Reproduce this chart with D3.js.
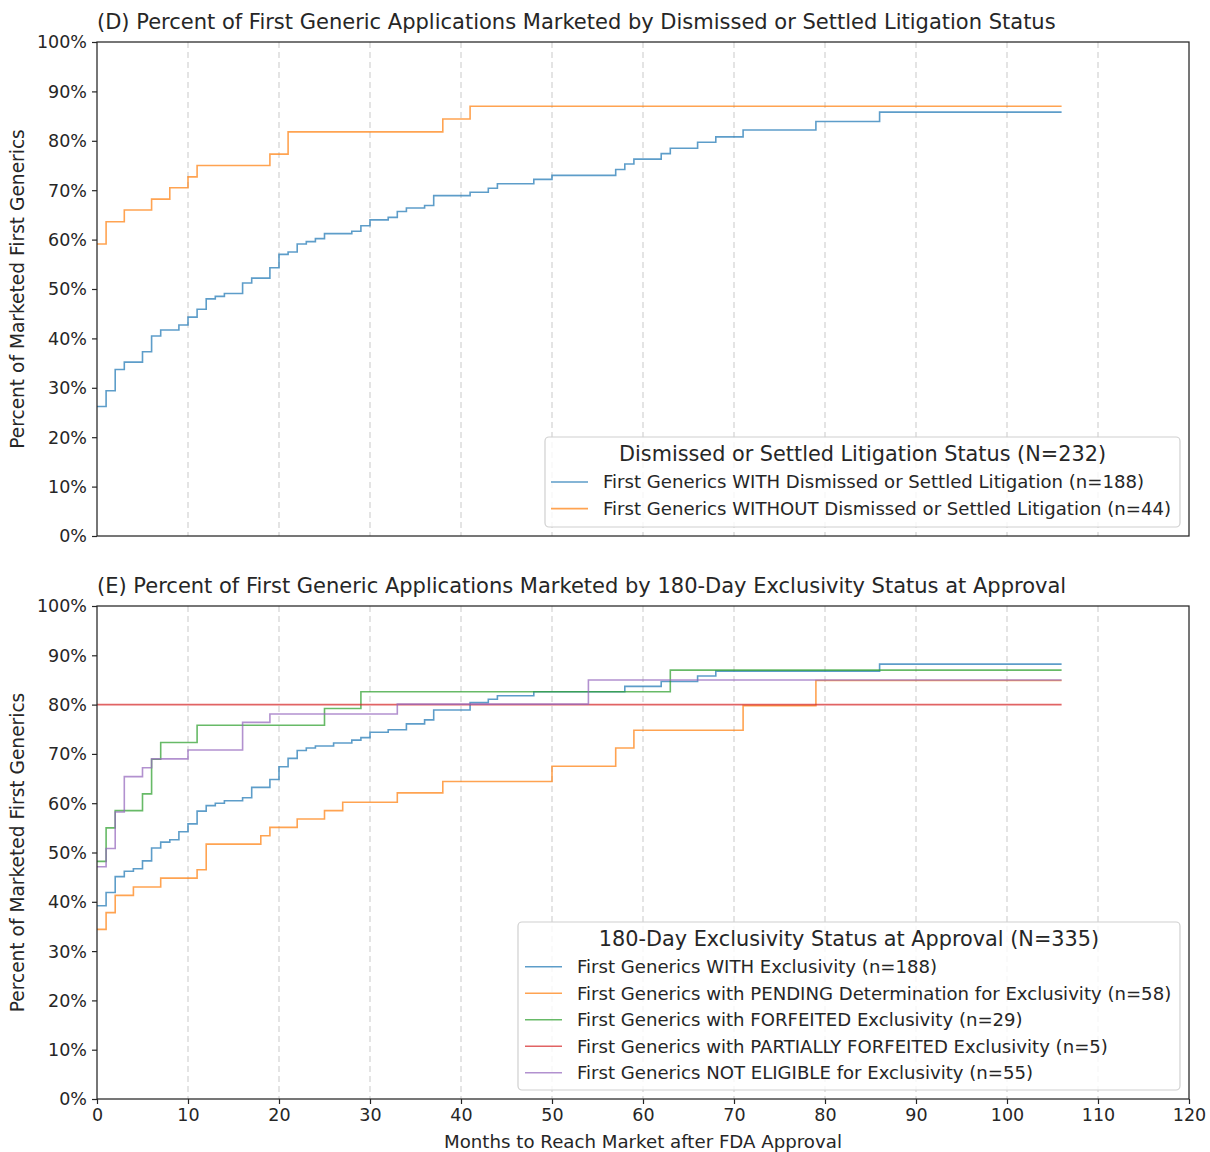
<!DOCTYPE html>
<html><head><meta charset="utf-8">
<script src="https://cdn.jsdelivr.net/npm/d3@7"></script>
<style>
body{margin:0;background:#fff;}
text{font-family:"DejaVu Sans",sans-serif;fill:#262626;}
</style></head>
<body><svg id="chart" width="1210" height="1152"></svg>
<script>
// ---- Data ----
const xTicks = [0,10,20,30,40,50,60,70,80,90,100,110,120];
const yTicks = [0,10,20,30,40,50,60,70,80,90,100];

const titleD = "(D) Percent of First Generic Applications Marketed by Dismissed or Settled Litigation Status";
const titleE = "(E) Percent of First Generic Applications Marketed by 180-Day Exclusivity Status at Approval";
const legendTitleD = "Dismissed or Settled Litigation Status (N=232)";
const legendTitleE = "180-Day Exclusivity Status at Approval (N=335)";

const labelsD = ["First Generics WITH Dismissed or Settled Litigation (n=188)",
                 "First Generics WITHOUT Dismissed or Settled Litigation (n=44)"];
const labelsE = ["First Generics WITH Exclusivity (n=188)",
                 "First Generics with PENDING Determination for Exclusivity (n=58)",
                 "First Generics with FORFEITED Exclusivity (n=29)",
                 "First Generics with PARTIALLY FORFEITED Exclusivity (n=5)",
                 "First Generics NOT ELIGIBLE for Exclusivity (n=55)"];

const dWithMonths = [0,1,2,3,5,6,7,9,10,11,12,13,14,16,17,19,20,21,22,23,24,25,28,29,30,32,33,34,36,37,41,43,44,48,50,57,58,59,62,63,66,68,71,79,86,106];
const dWithVals   = [26.2,29.4,33.7,35.2,37.3,40.5,41.7,42.7,44.3,45.9,48.0,48.5,49.1,51.2,52.2,54.3,57.0,57.5,59.1,59.6,60.2,61.2,61.7,62.8,64.0,64.5,65.7,66.4,66.9,68.9,69.6,70.4,71.3,72.2,73.0,74.2,75.3,76.3,77.4,78.5,79.7,80.8,82.2,83.9,85.8,85.8];
const dWithoutMonths = [0,1,3,6,8,10,11,19,21,38,41,106];
const dWithoutVals   = [59.1,63.6,66.0,68.2,70.5,72.7,75.0,77.3,81.8,84.4,87.0,87.0];

const eWithMonths = [0,1,2,3,4,5,6,7,8,9,10,11,12,13,14,16,17,19,20,21,22,23,24,26,28,29,30,32,34,36,37,41,43,44,48,58,62,66,68,86,106];
const eWithVals   = [39.2,41.9,45.1,46.2,46.7,48.3,50.9,52.1,52.6,54.2,55.8,58.4,59.5,60.0,60.5,61.1,63.2,64.8,67.4,69.1,70.7,71.2,71.6,72.2,72.8,73.3,74.4,74.9,76.1,76.9,78.9,80.4,81.1,81.8,82.6,83.7,84.7,85.8,86.8,88.2,88.2];
const ePendingMonths = [0,1,2,4,7,11,12,18,19,22,25,27,33,38,50,57,59,71,79,106];
const ePendingVals   = [34.4,37.8,41.3,43.0,44.8,46.5,51.7,53.4,55.1,56.8,58.5,60.2,62.1,64.4,67.5,71.2,74.8,79.8,84.9,84.9];
const eForfeitedMonths = [0,1,2,5,6,7,11,25,29,63,106];
const eForfeitedVals   = [48.2,55.0,58.5,61.9,68.9,72.3,75.8,79.2,82.6,87.0,87.0];
const ePartialMonths = [0,106];
const ePartialVals   = [80.0,80.0];
const eNotEligibleMonths = [0,1,2,3,5,6,10,16,19,33,54,106];
const eNotEligibleVals   = [47.1,50.8,58.2,65.4,67.2,69.0,70.8,76.4,78.1,80.1,85.0,85.0];

const colors = ["#1f77b4","#ff7f0e","#2ca02c","#d62728","#9467bd"];

// ---- Layout ----
const svg = d3.select("#chart");
const L = 97, R = 1189;
const x = d3.scaleLinear().domain([0,120]).range([L,R]);

const panels = [
  {top:42, bottom:536, title:titleD, titleY:29, showX:false,
   series:[[dWithMonths,dWithVals],[dWithoutMonths,dWithoutVals]], labels:labelsD,
   legendTitle:legendTitleD, lg:{x:545,y:437,w:635,h:90,titleY:461,firstY:482,step:26.6,lineX:551,textX:603}},
  {top:606, bottom:1099, title:titleE, titleY:593, showX:true,
   series:[[eWithMonths,eWithVals],[ePendingMonths,ePendingVals],[eForfeitedMonths,eForfeitedVals],[ePartialMonths,ePartialVals],[eNotEligibleMonths,eNotEligibleVals]],
   labels:labelsE, legendTitle:legendTitleE,
   lg:{x:518,y:922,w:662,h:168,titleY:946,firstY:966.7,step:26.5,lineX:525,textX:577}}
];

panels.forEach(p => {
  const y = d3.scaleLinear().domain([0,100]).range([p.bottom,p.top]);
  const g = svg.append("g");

  // grid
  g.selectAll(".grid").data(xTicks.filter(t=>t>0&&t<120)).enter().append("line")
    .attr("x1",d=>x(d)).attr("x2",d=>x(d)).attr("y1",p.top).attr("y2",p.bottom)
    .attr("stroke","#dcdcdc").attr("stroke-width",1.5).attr("stroke-dasharray","6,4");

  // lines
  const line = d3.line().x(d=>x(d[0])).y(d=>y(d[1])).curve(d3.curveStepAfter);
  p.series.forEach((s,i) => {
    const pts = s[0].map((m,j)=>[m,s[1][j]]);
    g.append("path").attr("d",line(pts)).attr("fill","none")
      .attr("stroke",colors[i]).attr("stroke-opacity",0.72).attr("stroke-width",1.6);
  });

  // y axis
  const yAxis = d3.axisLeft(y).tickValues(yTicks).tickFormat(d=>d+"%").tickSize(5).tickPadding(5);
  const ya = g.append("g").attr("transform",`translate(${L},0)`).call(yAxis);
  ya.select(".domain").remove();
  ya.selectAll("line").attr("stroke","#262626").attr("stroke-width",1.2);
  ya.selectAll("text").style("font-size","17.5px").attr("fill","#262626").attr("dy","0.34em");

  if (p.showX) {
    const xAxis = d3.axisBottom(x).tickValues(xTicks).tickSize(5).tickPadding(5);
    const xa = g.append("g").attr("transform",`translate(0,${p.bottom})`).call(xAxis);
    xa.select(".domain").remove();
    xa.selectAll("line").attr("stroke","#262626").attr("stroke-width",1.2);
    xa.selectAll("text").style("font-size","17.5px").attr("fill","#262626");
  }

  // frame
  g.append("rect").attr("x",L).attr("y",p.top).attr("width",R-L).attr("height",p.bottom-p.top)
    .attr("fill","none").attr("stroke","#262626").attr("stroke-width",1.25);

  // title
  g.append("text").attr("x",L).attr("y",p.titleY).text(p.title).style("font-size","21px");

  // y label
  g.append("text").attr("transform",`translate(24,${(p.top+p.bottom)/2}) rotate(-90)`)
    .attr("text-anchor","middle").text("Percent of Marketed First Generics").style("font-size","18.6px");

  // legend
  const lg = p.lg;
  const lgG = g.append("g");
  lgG.append("rect").attr("x",lg.x).attr("y",lg.y).attr("width",lg.w).attr("height",lg.h)
    .attr("rx",4).attr("fill","#fff").attr("fill-opacity",0.8).attr("stroke","#d0d0d0").attr("stroke-width",1.2);
  lgG.append("text").attr("x",lg.x+lg.w/2).attr("y",lg.titleY).attr("text-anchor","middle")
    .text(p.legendTitle).style("font-size","20.8px");
  p.labels.forEach((lab,i) => {
    const yy = lg.firstY + i*lg.step;
    lgG.append("line").attr("x1",lg.lineX).attr("x2",lg.lineX+37).attr("y1",yy).attr("y2",yy)
      .attr("stroke",colors[i]).attr("stroke-opacity",0.72).attr("stroke-width",1.6);
    lgG.append("text").attr("x",lg.textX).attr("y",yy+6.3).text(lab).style("font-size","18.1px");
  });
});

// x label
svg.append("text").attr("x",(L+R)/2).attr("y",1148).attr("text-anchor","middle")
  .text("Months to Reach Market after FDA Approval").style("font-size","18.2px");
</script>
</body></html>
